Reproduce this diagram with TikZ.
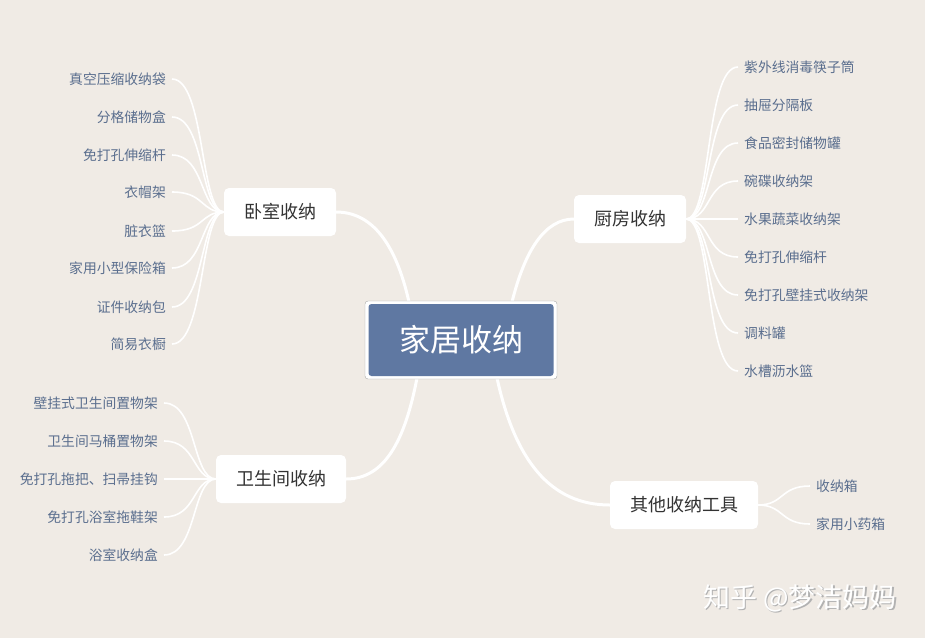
\documentclass[tikz,border=0pt]{standalone}
\usepackage{fontspec}
\setmainfont{Noto Sans CJK SC}
\begin{document}
\begin{tikzpicture}[x=1pt,y=-1pt,
  leaf/.style={font=\fontsize{13.8}{15}\selectfont,text=leafc,inner sep=0pt},
  branch/.style={fill=white,rounded corners=5pt,minimum height=48pt,font=\fontsize{18}{20}\selectfont,text=black!80,inner sep=0pt},
  core/.style={fill=corec,rounded corners=3pt,minimum width=185pt,minimum height=72pt,text=white,font=\fontsize{31}{34}\selectfont},
  coreframe/.style={draw=gray!70,fill=white,rounded corners=3pt,minimum width=192pt,minimum height=78pt},
  twig/.style={draw=white,line width=1.6pt},
  limb/.style={draw=white,line width=3pt}]
\definecolor{bg}{HTML}{F0EBE5}
\definecolor{leafc}{HTML}{5A6E8E}
\definecolor{corec}{HTML}{5F78A2}
\fill[bg] (0,0) rectangle (925,638);
\useasboundingbox (0,0) rectangle (925,638);
\coordinate (b1) at (280,212);
\coordinate (b2) at (281,479);
\coordinate (b3) at (630,219);
\coordinate (b4) at (684,505);
% limbs
\draw[limb] (409,302) .. controls (395,240) and (370,212) .. (336,212);
\draw[limb] (417,378) .. controls (405,440) and (385,479) .. (346,479);
\draw[limb] (512,302) .. controls (525,250) and (545,219) .. (574,219);
\draw[limb] (497,378) .. controls (515,460) and (550,505) .. (610,505);
\foreach \t/\y [count=\i] in {真空压缩收纳袋/79,分格储物盒/117,免打孔伸缩杆/155,衣帽架/192,脏衣篮/231,家用小型保险箱/268,证件收纳包/307,简易衣橱/344}{
  \node[leaf,anchor=east] (l\i) at (166,\y) {\t};
  \coordinate (e\i) at (172,\y);
  \draw[twig] (224,212) .. controls (200,212) and (205,\y) .. (e\i);
}
\foreach \t/\y [count=\i] in {壁挂式卫生间置物架/403,卫生间马桶置物架/441,免打孔拖把、扫帚挂钩/479,免打孔浴室拖鞋架/517,浴室收纳盒/555}{
  \node[leaf,anchor=east] (m\i) at (158,\y) {\t};
  \coordinate (f\i) at (164,\y);
  \draw[twig] (216,479) .. controls (192,479) and (197,\y) .. (f\i);
}
\foreach \t/\y [count=\i] in {紫外线消毒筷子筒/67,抽屉分隔板/105,食品密封储物罐/143,碗碟收纳架/181,水果蔬菜收纳架/219,免打孔伸缩杆/257,免打孔壁挂式收纳架/295,调料罐/333,水槽沥水篮/371}{
  \node[leaf,anchor=west] (k\i) at (744,\y) {\t};
  \coordinate (g\i) at (738,\y);
  \draw[twig] (686,219) .. controls (712,219) and (705,\y) .. (g\i);
}
\foreach \t/\y [count=\i] in {收纳箱/486,家用小药箱/524}{
  \node[leaf,anchor=west] (o\i) at (816,\y) {\t};
  \coordinate (h\i) at (810,\y);
  \draw[twig] (758,505) .. controls (784,505) and (780,\y) .. (h\i);
}
% nodes on top
\node[coreframe] (cf) at (461,340) {};
\node[core] (c) at (461,340) {家居收纳};
\node[branch,minimum width=112pt] (n1) at (b1) {卧室收纳};
\node[branch,minimum width=130pt] (n2) at (b2) {卫生间收纳};
\node[branch,minimum width=112pt] (n3) at (b3) {厨房收纳};
\node[branch,minimum width=148pt] (n4) at (b4) {其他收纳工具};
% watermark
\node[text=gray!60,font=\fontsize{27}{30}\selectfont] (ws) at (801.5,599.5) {知乎 @梦洁妈妈};
\node[text=white,font=\fontsize{27}{30}\selectfont] (wm) at (800,598) {知乎 @梦洁妈妈};
\end{tikzpicture}
\end{document}
